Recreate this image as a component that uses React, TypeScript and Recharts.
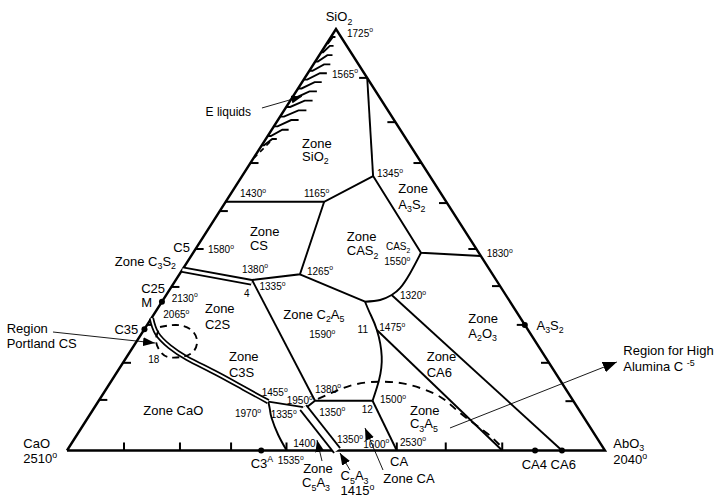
import { ComposedChart, Line, Scatter, XAxis, YAxis } from 'recharts';

type P = [number, number];

// diagram units: x along the CaO–Al2O3 base (0..100), y = SiO2 height (0..100)
const triangle: P[] = [[0, 0], [100, 0], [50, 100], [0, 0]];

const leftTicks = [12, 20.8, 29.8, 38.8, 47.8, 56.8, 68.2];
const rightTicks = [11.7, 20.8, 29.8, 39, 47.8, 58.7, 68.2, 77.9, 88.4];
const baseTicks = [10.6, 21, 30.5, 40.8, 61.3, 70.4, 80.9];

const silicaLine: P[] = [[55.8, 88.4], [56.9, 65.1]];
const line1430: P[] = [[29.5, 59.0], [47.8, 59.0], [56.9, 65.1]];
const line1345: P[] = [[56.9, 65.1], [65.8, 46.9], [76.9, 46.15]];
const line1165: P[] = [[47.8, 59.0], [43.3, 41.8], [34.4, 40.45]];
const lineToF: P[] = [[43.3, 41.8], [55.4, 35.3]];
const cas2Curve: P[] = [[65.8, 46.9], [63.75, 42.0], [61.9, 38.5], [60.35, 36.9], [58.2, 35.7], [55.4, 35.3]];
const curve11: P[] = [[55.4, 35.3], [56.3, 32.6], [57.6, 28.6], [58.5, 22.3], [58.0, 16.7], [56.8, 11.8]];
const line12: P[] = [[56.8, 11.8], [46.1, 11.8], [44.5, 10.2]];
const lineD: P[] = [[34.4, 40.45], [46.1, 11.8]];
const line1455: P[] = [[37.42, 11.58], [43.9, 10.3]];
const line1535: P[] = [[37.42, 11.58], [37.73, 9.61], [38.05, 7.64], [39.27, 3.68], [40.84, 0]];
const line11: P[] = [[57.6, 28.6], [80.9, 0]];
const line1320: P[] = [[60.35, 36.9], [92.0, 0]];
const line1600: P[] = [[56.8, 11.8], [61.3, 0]];

const c3s2Double: P[] = [[21.45, 42.9], [34.3, 39.9]];
const c2sDouble: P[] = [[15.7, 31.4], [16.7, 27.8], [19.1, 24.6], [22.3, 21.9], [27.8, 18.3], [32.8, 14.8], [37.4, 11.6]];
const c5a3Double: P[] = [[43.9, 10.2], [50.2, 0]];

const aluminaDash: P[] = [[46.65, 12.22], [53.16, 15.54], [58.73, 16.32], [63.75, 15.54], [69.33, 12.76], [73.05, 8.9], [78.01, 4.15], [81.1, 0.36]];
const portlandLoop: P[] = [[17.29, 29.3], [20.26, 29.78], [22.86, 28.83], [24.16, 26.22], [23.42, 23.37], [21.19, 22.18], [18.77, 22.18], [17.29, 23.61], [16.54, 26.22], [17.29, 29.3]];
const liquidTail: P[] = [[37.73, 73.19], [34.76, 69.39]];

// hatch strokes of the E liquids band: height and stroke width from the edge
const hatchY = [96.6, 94.5, 92.3, 90.1, 88.0, 85.9, 83.7, 81.5, 79.2, 76.9, 74.6, 72.4];
const hatchW = [1.6, 2.3, 3.2, 3.9, 4.3, 4.4, 4.6, 4.9, 4.9, 4.6, 3.9, 2.8];

const arrows: { pts: P[]; head: string }[] = [
  { pts: [[36.24, 81.26], [43.68, 84.0]], head: 'ahS' },
  { pts: [[-2.6, 28.11], [16.36, 25.5]], head: 'ahM' },
  { pts: [[71.19, 5.34], [102.2, 21.0]], head: 'ahL' },
  { pts: [[58.74, -4.63], [55.39, 5.34]], head: 'ahM' },
  { pts: [[47.4, -2.5], [46.47, 2.49]], head: 'ahM' },
  { pts: [[52.6, -4.63], [50.74, -0.59]], head: 'ahM' },
];

const markers: P[] = [[36.1, 0], [87.0, 0], [92.0, 0], [85.1, 29.8], [17.65, 35.3], [14.4, 28.75]];

type Note = { x: number; y: number; t: string; k?: 'z' | 'd' | 'e'; a?: 'start' | 'middle' | 'end' };
const notes: Note[] = [
  { x: 50.56, y: 102.9, t: 'SiO_2', a: 'middle' },
  { x: 52.04, y: 99.05, t: '1725^o', k: 'd' },
  { x: 54.1, y: 89.3, t: '1565^o', k: 'd', a: 'end' },
  { x: 34.2, y: 80.3, t: 'E liquids', k: 'e', a: 'end' },
  { x: 43.7, y: 72.95, t: 'Zone' },
  { x: 43.7, y: 69.87, t: 'SiO_2' },
  { x: 32.16, y: 60.97, t: '1430^o', k: 'd' },
  { x: 44.05, y: 60.97, t: '1165^o', k: 'd' },
  { x: 34.0, y: 51.9, t: 'Zone' },
  { x: 34.0, y: 48.65, t: 'CS' },
  { x: 22.86, y: 48.16, t: 'C5', a: 'end' },
  { x: 26.2, y: 47.64, t: '1580^o', k: 'd' },
  { x: 20.26, y: 44.89, t: 'Zone C_3S_2', a: 'end' },
  { x: 32.53, y: 43.06, t: '1380^o', k: 'd' },
  { x: 44.61, y: 42.59, t: '1265^o', k: 'd' },
  { x: 35.78, y: 38.86, t: '1335^o', k: 'd' },
  { x: 33.4, y: 37.3, t: '4', k: 'd', a: 'middle' },
  { x: 57.62, y: 65.77, t: '1345^o', k: 'd' },
  { x: 61.58, y: 62.11, t: 'Zone' },
  { x: 61.58, y: 58.48, t: 'A_3S_2' },
  { x: 52.0, y: 50.72, t: 'Zone' },
  { x: 52.0, y: 47.38, t: 'CAS_2' },
  { x: 59.29, y: 48.4, t: 'CAS_2', k: 'd' },
  { x: 58.98, y: 44.9, t: '1550^o', k: 'd' },
  { x: 78.0, y: 46.67, t: '1830^o', k: 'd' },
  { x: 61.89, y: 36.7, t: '1320^o', k: 'd' },
  { x: 55.95, y: 28.66, t: '11', k: 'd', a: 'end' },
  { x: 58.05, y: 29.25, t: '1475^o', k: 'd' },
  { x: 74.59, y: 31.36, t: 'Zone' },
  { x: 74.59, y: 27.81, t: 'A_2O_3' },
  { x: 87.27, y: 29.7, t: 'A_3S_2' },
  { x: 19.46, y: 36.18, t: '2130^o', k: 'd' },
  { x: 18.22, y: 38.39, t: 'C25', a: 'end' },
  { x: 15.8, y: 35.07, t: 'M', a: 'end' },
  { x: 17.9, y: 32.27, t: '2065^o', k: 'd' },
  { x: 13.25, y: 28.78, t: 'C35', a: 'end' },
  { x: -11.21, y: 28.99, t: 'Region' },
  { x: -11.21, y: 25.43, t: 'Portland CS' },
  { x: 15.11, y: 21.54, t: '18', k: 'd' },
  { x: 25.65, y: 33.74, t: 'Zone' },
  { x: 25.65, y: 30.01, t: 'C2S' },
  { x: 30.11, y: 22.25, t: 'Zone' },
  { x: 30.11, y: 18.62, t: 'C3S' },
  { x: 40.2, y: 32.31, t: 'Zone C_2A_5' },
  { x: 45.04, y: 27.52, t: '1590^o', k: 'd' },
  { x: 36.19, y: 13.76, t: '1455^o', k: 'd' },
  { x: 46.1, y: 14.59, t: '1380^o', k: 'd' },
  { x: 40.84, y: 11.86, t: '1950^o', k: 'd' },
  { x: 14.18, y: 9.42, t: 'Zone CaO' },
  { x: 31.23, y: 8.83, t: '1970^o', k: 'd' },
  { x: 37.86, y: 8.61, t: '1335^o', k: 'd' },
  { x: 46.9, y: 9.13, t: '1350^o', k: 'd' },
  { x: 54.78, y: 9.77, t: '12', k: 'd' },
  { x: 58.18, y: 12.1, t: '1500^o', k: 'd' },
  { x: 66.86, y: 22.25, t: 'Zone' },
  { x: 66.86, y: 18.55, t: 'CA6' },
  { x: 63.75, y: 9.61, t: 'Zone' },
  { x: 63.75, y: 6.36, t: 'C_3A_5' },
  { x: 50.18, y: 2.68, t: '1350^o', k: 'd' },
  { x: 42.06, y: 1.71, t: '1400', k: 'd' },
  { x: 55.07, y: 1.54, t: '1600^o', k: 'd' },
  { x: 61.89, y: 2.02, t: '2530^o', k: 'd' },
  { x: -8.12, y: 1.71, t: 'CaO' },
  { x: -8.12, y: -1.85, t: '2510^o' },
  { x: 34.14, y: -2.97, t: 'C3^A' },
  { x: 39.16, y: -2.44, t: '1535^o', k: 'd' },
  { x: 43.9, y: -4.34, t: 'Zone' },
  { x: 43.7, y: -7.59, t: 'C_5A_3' },
  { x: 50.85, y: -6.0, t: 'C_5A_3' },
  { x: 50.85, y: -9.5, t: '1415^o' },
  { x: 60.04, y: -2.66, t: 'CA' },
  { x: 58.79, y: -6.6, t: 'Zone CA' },
  { x: 84.52, y: -3.25, t: 'CA4 CA6' },
  { x: 101.54, y: 1.7, t: 'AbO_3' },
  { x: 101.54, y: -2.2, t: '2040^o' },
  { x: 103.4, y: 23.65, t: 'Region for High' },
  { x: 103.4, y: 19.9, t: 'Alumina C ^{-5}' },
];

const FONT = '"Liberation Sans", Arial, Helvetica, sans-serif';
const SIZE = { z: 13, d: 10, e: 12 };

const pts = (a: P[]) => a.map(([x, y]) => ({ x, y }));

const tickSegs: P[][] = [
  ...leftTicks.map((y): P[] => [[y / 2, y], [y / 2 + 1.5, y]]),
  ...rightTicks.map((y): P[] => [[100 - y / 2, y], [100 - y / 2 - 1.5, y]]),
  ...baseTicks.map((x): P[] => [[x, 0], [x, 1.9]]),
];

// each stroke: short foot on the edge, slanted rise, flat top
const hatchSegs: P[][] = hatchY.map((y, i): P[] => {
  const w = hatchW[i];
  return [[y / 2, y], [y / 2 + 0.15 * w, y], [y / 2 + 0.7 * w, y + 1.5], [y / 2 + w, y + 1.5]];
});

function parse(t: string) {
  const out: { s: string; k: 'n' | 'sub' | 'sup' }[] = [];
  let buf = '';
  let i = 0;
  while (i < t.length) {
    const c = t[i];
    if (c === '_' || c === '^') {
      if (buf) out.push({ s: buf, k: 'n' });
      buf = '';
      let s: string;
      if (t[i + 1] === '{') {
        const j = t.indexOf('}', i);
        s = t.slice(i + 2, j);
        i = j + 1;
      } else {
        s = t[i + 1];
        i += 2;
      }
      out.push({ s, k: c === '_' ? 'sub' : 'sup' });
    } else {
      buf += c;
      i++;
    }
  }
  if (buf) out.push({ s: buf, k: 'n' });
  return out;
}

function NoteText(props: any) {
  const { cx, cy, payload } = props;
  const size = SIZE[(payload.k ?? 'z') as 'z'];
  let shift = 0;
  const spans = parse(payload.t).map((p, i) => {
    const target = p.k === 'sub' ? size * 0.26 : p.k === 'sup' ? -size * 0.42 : 0;
    const dy = target - shift;
    shift = target;
    return (
      <tspan key={i} dy={dy} fontSize={p.k === 'n' ? size : size * 0.68}>
        {p.s}
      </tspan>
    );
  });
  return (
    <text x={cx} y={cy + size * 0.36} textAnchor={payload.a ?? 'start'} fontFamily={FONT} fontSize={size} fill="#000">
      {spans}
    </text>
  );
}

function path(key: string, data: P[], opts: { w?: number; color?: string; dash?: string; type?: 'linear' | 'natural' } = {}) {
  return (
    <Line
      key={key}
      data={pts(data)}
      dataKey="y"
      type={opts.type ?? 'linear'}
      stroke={opts.color ?? '#000'}
      strokeWidth={opts.w ?? 1.9}
      strokeDasharray={opts.dash}
      dot={false}
      activeDot={false}
      isAnimationActive={false}
    />
  );
}

function double(key: string, data: P[], outer: number, inner: number, type: 'linear' | 'natural' = 'linear') {
  return [path(`${key}o`, data, { w: outer, type }), path(`${key}i`, data, { w: inner, color: '#fff', type })];
}

function head(id: string, len: number, wid: number) {
  return (
    <marker id={id} viewBox="0 0 10 10" refX="10" refY="5" markerUnits="userSpaceOnUse" markerWidth={len} markerHeight={wid} orient="auto" preserveAspectRatio="none">
      <path d="M0,0 L10,5 L0,10 z" fill="#000" />
    </marker>
  );
}

export default function App() {
  return (
    <div style={{ position: 'absolute', left: 0, top: 0, width: 714, height: 499, background: '#fff' }}>
      <ComposedChart width={714} height={499} margin={{ top: 0, right: 0, bottom: 0, left: 0 }}>
        <defs>
          {head('ahS', 11, 8)}
          {head('ahM', 12, 9)}
          {head('ahL', 14, 11)}
        </defs>
        <XAxis type="number" dataKey="x" domain={[-12.45, 120.26]} hide allowDataOverflow />
        <YAxis type="number" domain={[-11.51, 106.88]} hide allowDataOverflow />
        {path('tri', triangle, { w: 2.4 })}
        {tickSegs.map((s, i) => path(`t${i}`, s, { w: 2 }))}
        {hatchSegs.map((s, i) => path(`h${i}`, s, { w: 1.9 }))}
        {path('tail', liquidTail, { w: 1.6, dash: '5 4' })}
        {path('si', silicaLine)}
        {path('l1430', line1430)}
        {path('l1345', line1345)}
        {path('l1165', line1165)}
        {path('lf', lineToF)}
        {path('cas2', cas2Curve, { type: 'natural' })}
        {path('c11', curve11, { type: 'natural' })}
        {path('l12', line12)}
        {path('ld', lineD)}
        {path('l1455', line1455)}
        {path('l1535', line1535, { type: 'natural' })}
        {path('l11', line11)}
        {path('l1320', line1320)}
        {path('l1600', line1600)}
        {double('c3s2', c3s2Double, 6.5, 2.8)}
        {double('c2s', c2sDouble, 5.2, 1.8, 'natural')}
        {double('c5a3', c5a3Double, 9.5, 6.0)}
        {path('dash1', aluminaDash, { dash: '8 6', type: 'natural' })}
        {path('dash2', portlandLoop, { dash: '7 5', type: 'natural' })}
        {arrows.map((a, i) => (
          <Line
            key={`a${i}`}
            data={pts(a.pts)}
            dataKey="y"
            type="linear"
            stroke="#000"
            strokeWidth={0.9}
            markerEnd={`url(#${a.head})`}
            dot={false}
            activeDot={false}
            isAnimationActive={false}
          />
        ))}
        <Scatter
          data={pts(markers)}
          dataKey="y"
          isAnimationActive={false}
          shape={(p: any) => <circle cx={p.cx} cy={p.cy} r={3} fill="#000" />}
        />
        <Scatter data={notes} dataKey="y" isAnimationActive={false} shape={(p: any) => <NoteText {...p} />} />
      </ComposedChart>
    </div>
  );
}
